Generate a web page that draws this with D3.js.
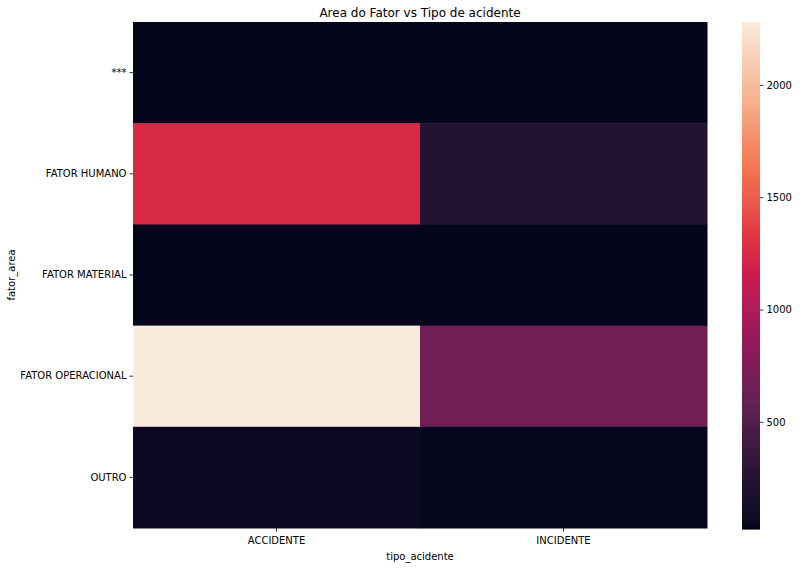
<!DOCTYPE html>
<html>
<head>
<meta charset="utf-8">
<script src="https://cdn.jsdelivr.net/npm/d3@7"></script>
<style>
  body { margin: 0; background: #fff; }
  text { font-family: "DejaVu Sans", sans-serif; fill: #000; }
</style>
</head>
<body>
<svg id="chart"></svg>
<script>
// data
const rows = ["***", "FATOR HUMANO", "FATOR MATERIAL", "FATOR OPERACIONAL", "OUTRO"];
const cols = ["ACCIDENTE", "INCIDENTE"];
const accidente = [30, 1250, 35, 2280, 95];
const incidente = [25, 230, 23, 660, 45];
const cbarTicks = [500, 1000, 1500, 2000];

// seaborn "rocket" colormap anchors
const rocketStops = ["#03051a", "#35193e", "#701f57", "#ad1759", "#cb1b4f", "#e13342", "#f37651", "#f6b48f", "#faebdd"];
const rocketPos = [0, 1/7, 2/7, 3/7, 0.5, 4/7, 5/7, 6/7, 1];

const width = 807, height = 568;
const svg = d3.select("#chart").attr("width", width).attr("height", height);

const cells = [];
rows.forEach((r, i) => {
    cells.push({ row: r, col: cols[0], value: accidente[i] });
    cells.push({ row: r, col: cols[1], value: incidente[i] });
});

const vmin = d3.min(cells, d => d.value);
const vmax = d3.max(cells, d => d.value);

const rocket = d3.scaleLinear().domain(rocketPos).range(rocketStops).interpolate(d3.interpolateRgb);
const color = v => rocket((v - vmin) / (vmax - vmin));

// heatmap scales
const x = d3.scaleBand().domain(cols).range([133, 707]);
const y = d3.scaleBand().domain(rows).range([22, 528]);

svg.selectAll(".cell")
    .data(cells)
    .enter()
    .append("rect")
    .attr("class", "cell")
    .attr("x", d => x(d.col))
    .attr("y", d => y(d.row))
    .attr("width", x.bandwidth() + 0.5)
    .attr("height", y.bandwidth() + 0.5)
    .attr("fill", d => color(d.value));

// axes
const xAxis = svg.append("g")
    .attr("transform", "translate(0,528)")
    .call(d3.axisBottom(x).tickSize(3.5).tickPadding(5));
const yAxis = svg.append("g")
    .attr("transform", "translate(133,0)")
    .call(d3.axisLeft(y).tickSize(3.5).tickPadding(3));

[xAxis, yAxis].forEach(g => {
    g.select(".domain").remove();
    g.selectAll("line").attr("stroke", "#000").attr("stroke-width", 0.8);
    g.selectAll("text").style("font-size", "10px").attr("fill", "#000");
});

// axis labels and title
svg.append("text")
    .attr("x", 420).attr("y", 560)
    .attr("text-anchor", "middle")
    .style("font-size", "10px")
    .text("tipo_acidente");

svg.append("text")
    .attr("transform", "translate(15,275) rotate(-90)")
    .attr("text-anchor", "middle")
    .style("font-size", "10px")
    .text("fator_area");

svg.append("text")
    .attr("x", 420).attr("y", 17)
    .attr("text-anchor", "middle")
    .style("font-size", "12px")
    .text("Area do Fator vs Tipo de acidente");

// colorbar
const cb = d3.scaleLinear().domain([vmin, vmax]).range([529, 22]);
const steps = d3.range(0, 256);
const stepH = (529 - 22) / 256;
svg.append("g").selectAll("rect")
    .data(steps)
    .enter()
    .append("rect")
    .attr("x", 742)
    .attr("width", 18)
    .attr("y", i => 529 - (i + 1) * stepH)
    .attr("height", stepH + 0.6)
    .attr("fill", i => rocket(i / 255));

const cAxis = svg.append("g")
    .attr("transform", "translate(760,0)")
    .call(d3.axisRight(cb).tickValues(cbarTicks).tickFormat(d3.format("d")).tickSize(3.5).tickPadding(3));
cAxis.select(".domain").remove();
cAxis.selectAll("line").attr("stroke", "#000").attr("stroke-width", 0.8);
cAxis.selectAll("text").style("font-size", "10px").attr("fill", "#000");
</script>
</body>
</html>
